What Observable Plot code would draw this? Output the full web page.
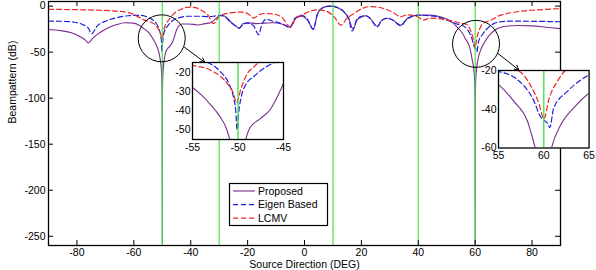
<!DOCTYPE html>
<html>
<head>
<meta charset="utf-8">
<script src="https://cdn.jsdelivr.net/npm/d3@7"></script>
<script src="https://cdn.jsdelivr.net/npm/@observablehq/plot@0.6"></script>
<style>
  html, body { margin: 0; padding: 0; background: #fff; }
  #chart { position: relative; width: 596px; height: 270px; font-family: "Liberation Sans", Arial, Helvetica, sans-serif; }
  #chart > svg { position: absolute; overflow: visible; }
</style>
</head>
<body>
<div id="chart"></div>
<script>
// Beampattern (dB) versus source direction, [degree, dB] pairs per beamformer
const proposed = [
  [-90,-25.4],[-86,-26.5],[-82,-29],[-79,-33],[-77,-37],[-76,-40],[-74.5,-35],[-72,-29],[-69,-23.5],[-66,-20],
  [-63,-18],[-60,-18.5],[-58,-21],[-56.5,-24.5],[-55,-28],[-54,-32],[-53,-37],[-52,-43],[-51.3,-49],[-50.9,-55],
  [-50.5,-63],[-50.2,-75],[-50.05,-100],[-50,-258],[-49.95,-100],[-49.8,-75],[-49.5,-63],[-49.15,-55],[-48.7,-49],
  [-47.5,-44],[-46.4,-39],[-45.8,-34],[-45.3,-29],[-45,-26],[-44,-21],[-43,-19.5],[-41,-19.5],[-39,-19.8],
  [-37.7,-20.5],[-35,-19],[-33,-18],[-31,-13],[-29.5,-10],[-28,-11],[-26,-17],[-24,-22],[-23,-24],[-21.5,-19],
  [-20,-18],[-17,-19],[-14,-18.5],[-11,-18],[-8,-19.5],[-5.1,-23],[-3,-13],[-1,-11],[1,-15],[3.1,-25],[4.5,-9],
  [6,-2.5],[8,-0.3],[9.7,0],[11.5,-1.5],[13.8,-6],[15.5,-13],[17.1,-25],[18.5,-15],[20.3,-11.6],[21.5,-10.5],
  [23,-13],[25.6,-22],[27,-16],[29,-13.4],[31,-15],[33.8,-20.7],[36,-14],[38,-11],[40,-9.8],[44,-9.8],
  [47.8,-11.6],[50,-14],[52.5,-19],[54,-24],[55,-27.3],[56.7,-35.9],[58.2,-46.2],[59,-59],[59.5,-68],[59.8,-80],
  [59.95,-100],[60,-258],[60.05,-100],[60.2,-80],[60.5,-68],[60.85,-60],[61.9,-47.8],[63.3,-39.3],[65,-31.6],
  [67,-26],[69,-23],[71,-21.8],[75,-21],[80,-21.5],[85,-23],[90,-24.5]
];
const eigenBased = [
  [-90,-16.3],[-85,-16.5],[-81,-17.5],[-78,-20],[-76,-24],[-74.8,-30],[-73,-22],[-70,-16.5],[-66,-12.5],
  [-62,-10.5],[-58,-10],[-56,-11],[-54.5,-13],[-53.3,-15],[-52,-19.5],[-51,-26],[-50.5,-33],[-50.25,-40],
  [-50.1,-50],[-49.9,-40],[-49.6,-32],[-49.2,-27],[-48.2,-22],[-47,-17.5],[-46,-15],[-44,-12.5],[-41,-11],
  [-37,-11],[-34,-11.5],[-32,-11],[-30,-10],[-28,-11.5],[-26,-17.5],[-24,-22],[-23,-24],[-21.5,-19.5],
  [-20,-18.5],[-18,-21],[-16.1,-31],[-15,-20],[-13.5,-14.5],[-11,-16.5],[-8,-19],[-5.1,-23],[-3.5,-14],
  [-1,-10],[1,-14],[3.1,-25.4],[4.5,-9],[6,-2.5],[8,-0.3],[9.7,0],[11.5,-1.5],[13.8,-6],[15.5,-14],
  [16.8,-27],[18.3,-15],[20,-11],[21.5,-10.5],[23,-13],[25.6,-22.5],[27,-16],[29,-13],[31,-15],[33.8,-21.4],
  [36,-14],[38,-11],[40.2,-9.8],[44,-10.5],[47.8,-12.5],[50.2,-15.3],[53.7,-19.5],[55,-20.5],[57.1,-24.8],
  [58.75,-34.2],[59.7,-44.4],[60.5,-48],[60.65,-49.5],[61.1,-39.3],[62.6,-30.8],[65,-22.2],[66.5,-19],
  [69,-17],[72,-16.3],[80,-16.5],[90,-17]
];
const lcmv = [
  [-90,-3.6],[-84,-3.7],[-78,-4],[-72,-4.5],[-66,-5.5],[-62,-7],[-60,-9],[-58,-12.5],[-56.5,-15],[-55,-16.5],
  [-53,-19],[-52,-22],[-51,-27],[-50.5,-31],[-50.15,-36],[-49.7,-29],[-49,-21],[-48.2,-17],[-47,-12],
  [-45.5,-7],[-43,-3],[-40.5,-1],[-38,-2],[-36,-5],[-34,-9.5],[-32,-19],[-30,-11],[-28,-8.5],[-25,-7],
  [-22,-6.5],[-20,-8],[-17.8,-13],[-16,-9.5],[-14,-8],[-11,-8.5],[-8,-12],[-5,-22.5],[-3,-13],[-0.5,-9],
  [2,-5.5],[5,-4],[8,-6],[10.5,-12],[12.8,-20.7],[15,-13],[17.4,-8],[20,-3],[23,-0.5],[26,-1.2],[29,-4],
  [31.5,-7.5],[33.8,-11.6],[36,-9.5],[38,-10],[40,-12],[41.9,-15.3],[44,-13],[47,-13.5],[50,-15],[53,-17],
  [55,-18.5],[57.1,-20],[58.6,-28.2],[59.5,-37.6],[60,-45],[60.6,-34.2],[61.5,-25.6],[62.4,-20],[64,-17],
  [66,-14.5],[68,-11],[70,-9],[75,-6],[80,-4.5],[85,-3.5],[90,-2.8]
];

// Source directions marked with vertical lines
const sourceDirections = [-50, -30, 10, 40, 60];

// Axis ticks
const xTicks = [-80, -60, -40, -20, 0, 20, 40, 60, 80];
const yTicks = [0, -50, -100, -150, -200, -250];
const leftInsetXTicks = [-55, -50, -45];
const leftInsetYTicks = [-20, -30, -40, -50];
const rightInsetXTicks = [55, 60, 65];
const rightInsetYTicks = [-20, -40, -60];

// Zoom markers: circled regions and the arrows pointing to the insets
const zoomSpots = [{deg: -50.2, db: -35}, {deg: 60.3, db: -41}];
const zoomArrows = [
  {deg1: -42.2, db1: -44.7, deg2: -35.1, db2: -61},
  {deg1: 67.9, db1: -51.2, deg2: 75.3, db2: -69.2}
];

const series = [
  {name: "Proposed", data: proposed, color: "#7a2e8e", dash: null, width: 1.1},
  {name: "Eigen Based", data: eigenBased, color: "#1f1fe0", dash: "5,3", width: 1.2},
  {name: "LCMV", data: lcmv, color: "#f02424", dash: "5,3", width: 1.2}
];
const green = "#3be03b";
const font = "'Liberation Sans', Arial, Helvetica, sans-serif";
const fmt = d => String(d);

const rows = data => data.map(([deg, db]) => ({deg, db}));

const W = 596, H = 270;
const mL = 48, mR = 36, mT = 1, mB = 25;
const xDomain = [-90, 90], yDomain = [-260, 5];
const dbPerPx = (yDomain[1] - yDomain[0]) / (H - mT - mB);
const degPerPx = (xDomain[1] - xDomain[0]) / (W - mL - mR);
const tickLen = 5;

const lineMarks = (opts = {}) => series.map(s => Plot.line(rows(s.data), {
  x: "deg", y: "db", stroke: s.color, strokeWidth: s.width,
  strokeDasharray: s.dash, curve: "monotone-x", ...opts
}));

const main = Plot.plot({
  width: W, height: H,
  marginLeft: mL, marginRight: mR, marginTop: mT, marginBottom: mB,
  style: {fontFamily: font, fontSize: "10.5px", background: "transparent", color: "black"},
  x: {domain: xDomain, label: null},
  y: {domain: yDomain, label: null},
  marks: [
    ...lineMarks({clip: true}),
    Plot.ruleX(sourceDirections, {stroke: green, strokeWidth: 1.1}),
    Plot.dot(zoomSpots, {x: "deg", y: "db", r: 23.5, stroke: "black", fill: "none", strokeWidth: 1}),
    Plot.arrow(zoomArrows, {x1: "deg1", y1: "db1", x2: "deg2", y2: "db2", stroke: "black", strokeWidth: 1, headLength: 7}),
    Plot.ruleX(xTicks, {y1: yDomain[0], y2: yDomain[0] + tickLen * dbPerPx, stroke: "black"}),
    Plot.ruleX(xTicks, {y1: yDomain[1], y2: yDomain[1] - tickLen * dbPerPx, stroke: "black"}),
    Plot.ruleY(yTicks, {x1: xDomain[0], x2: xDomain[0] + tickLen * degPerPx, stroke: "black"}),
    Plot.ruleY(yTicks, {x1: xDomain[1], x2: xDomain[1] - tickLen * degPerPx, stroke: "black"}),
    Plot.frame({stroke: "black", strokeWidth: 1.3}),
    Plot.axisX(xTicks, {tickSize: 0, tickPadding: 3, tickFormat: fmt, label: null}),
    Plot.axisY(yTicks, {tickSize: 0, tickPadding: 3, tickFormat: fmt, label: null}),
    Plot.text(["Source Direction (DEG)"], {text: d => d, frameAnchor: "bottom", lineAnchor: "bottom", dy: 22, fontSize: 10.5}),
    Plot.text(["Beampattern (dB)"], {text: d => d, frameAnchor: "left", dx: -35.5, rotate: -90, fontSize: 10.5})
  ]
});
main.style.left = "0px";
main.style.top = "0px";

// Magnified views around the two nulls
function inset({xDomain, yDomain, xTicks, yTicks, mark, left, top, w, h}) {
  const il = 26, ir = 4, it = 4, ib = 16;
  const svg = Plot.plot({
    width: il + w + ir, height: it + h + ib,
    marginLeft: il, marginRight: ir, marginTop: it, marginBottom: ib,
    style: {fontFamily: font, fontSize: "10.5px", background: "transparent", color: "black"},
    x: {domain: xDomain, label: null},
    y: {domain: yDomain, label: null},
    marks: [
      Plot.frame({fill: "white"}),
      ...lineMarks({clip: true}),
      Plot.ruleX([mark], {stroke: green, strokeWidth: 1.3, clip: true}),
      Plot.frame({stroke: "black", strokeWidth: 1.3}),
      Plot.axisX(xTicks, {tickSize: 0, tickPadding: 4, tickFormat: fmt, label: null}),
      Plot.axisY(yTicks, {tickSize: 0, tickPadding: 2, tickFormat: fmt, label: null})
    ]
  });
  svg.style.left = (left - il) + "px";
  svg.style.top = (top - it) + "px";
  return svg;
}

const leftInset = inset({xDomain: [-55, -45], yDomain: [-55, -15], xTicks: leftInsetXTicks, yTicks: leftInsetYTicks,
  mark: -50, left: 191.7, top: 62.3, w: 91, h: 77});
const rightInset = inset({xDomain: [55, 65], yDomain: [-60, -20], xTicks: rightInsetXTicks, yTicks: rightInsetYTicks,
  mark: 60, left: 497.7, top: 70.3, w: 90.6, h: 77.5});

// Legend box
const legend = d3.create("svg")
  .attr("width", 99).attr("height", 43)
  .style("left", "229px").style("top", "183px");
legend.append("rect").attr("x", 0.5).attr("y", 0.5).attr("width", 98).attr("height", 42)
  .attr("fill", "white").attr("stroke", "black").attr("stroke-width", 1.2);
series.forEach((s, i) => {
  const y = 8 + i * 13.6;
  legend.append("line").attr("x1", 4).attr("x2", 26).attr("y1", y).attr("y2", y)
    .attr("stroke", s.color).attr("stroke-width", s.width)
    .attr("stroke-dasharray", s.dash);
  legend.append("text").attr("x", 29).attr("y", y).attr("dy", "0.35em")
    .attr("font-family", font).attr("font-size", 10.5).attr("fill", "black").text(s.name);
});

const chart = document.getElementById("chart");
chart.append(main, leftInset, rightInset, legend.node());
</script>
</body>
</html>
